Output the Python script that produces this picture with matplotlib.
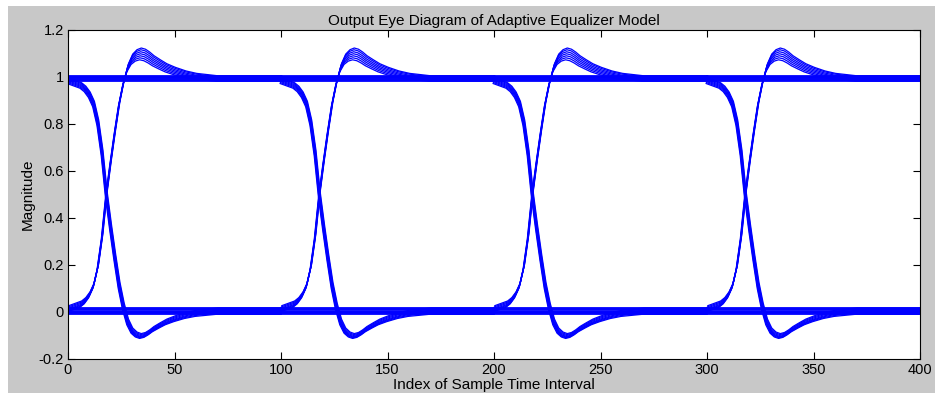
import numpy as np
import matplotlib.pyplot as plt
from matplotlib.patches import Rectangle

plt.rcParams['font.family'] = ['Liberation Sans', 'DejaVu Sans']

# one rising transition, sample offset within a symbol -> magnitude
edge_x = [0, 3, 6, 8, 10, 12, 14, 16, 18, 20, 22, 24, 26, 28, 30, 32, 34,
          36, 38, 40, 43, 46, 50, 55, 60, 65, 70, 80, 100]
edge_rise = [0.01, 0.02, 0.03, 0.045, 0.07, 0.11, 0.19, 0.32, 0.5, 0.64,
             0.77, 0.89, 0.98, 1.05, 1.09, 1.108, 1.115, 1.11, 1.098, 1.083,
             1.066, 1.05, 1.035, 1.02, 1.01, 1.005, 1.0, 1.0, 1.0]

symbol_starts = [0, 100, 200, 300]
symbol_len = 100

# spread between the overlaid traces
ring_gain = [0.8, 0.84, 0.88, 0.92, 0.96, 1.0, 1.04]
dip_gain = [0.9, 0.91, 0.92, 0.93, 0.94, 0.95, 0.96]
high_shift = [-0.02, -0.016, -0.012, -0.008, -0.004, 0.0, 0.003]
low_shift = [-0.012, -0.008, -0.004, 0.0, 0.005, 0.01, 0.015]
jitter = [-0.4, -0.25, -0.1, 0.0, 0.1, 0.25, 0.4]

x_ticks = [0, 50, 100, 150, 200, 250, 300, 350, 400]
y_ticks = [-0.2, 0, 0.2, 0.4, 0.6, 0.8, 1.0, 1.2]
y_tick_labels = ['-0.2', '0', '0.2', '0.4', '0.6', '0.8', '1', '1.2']

fig = plt.figure(figsize=(9.4, 3.94), dpi=100)
fig.patch.set_facecolor('white')
fig.patches.append(Rectangle((8 / 940, 1 / 394), 927 / 940, 387 / 394,
                             transform=fig.transFigure, facecolor='#c8c8c8',
                             edgecolor='none', zorder=-10))

ax = fig.add_axes([68 / 940, 1 - 358.5 / 394, 852 / 940, 329 / 394])

ex = np.array(edge_x, dtype=float)
er = np.array(edge_rise)
for g, dg, hs, ls, j in zip(ring_gain, dip_gain, high_shift, low_shift, jitter):
    up = np.where(er > 1, 1 + g * (er - 1), er)
    down = 1 - np.where(er > 1, 1 + dg * (er - 1), er)
    for s in symbol_starts:
        xs = s + ex + j
        ax.plot(xs, up + ls * (1 - er) + hs * er, color='blue', lw=0.9)
        ax.plot(xs, down + hs * (1 - er) + ls * er, color='blue', lw=0.9)
        ax.plot([s, s + symbol_len], [1 + hs, 1 + hs], color='blue', lw=1.3)
        ax.plot([s, s + symbol_len], [ls, ls], color='blue', lw=1.3)

ax.set_xlim(0, 400)
ax.set_ylim(-0.2, 1.2)
ax.set_xticks(x_ticks)
ax.set_yticks(y_ticks)
ax.set_yticklabels(y_tick_labels)
ax.tick_params(direction='in', length=5, top=True, right=True,
               labelsize=10.5, pad=3)
ax.set_title('Output Eye Diagram of Adaptive Equalizer Model', fontsize=11,
             pad=3)
ax.set_xlabel('Index of Sample Time Interval', fontsize=11, labelpad=1)
ax.set_ylabel('Magnitude', fontsize=11, labelpad=3)

fig.savefig('out.png', dpi=100, facecolor=fig.get_facecolor())
